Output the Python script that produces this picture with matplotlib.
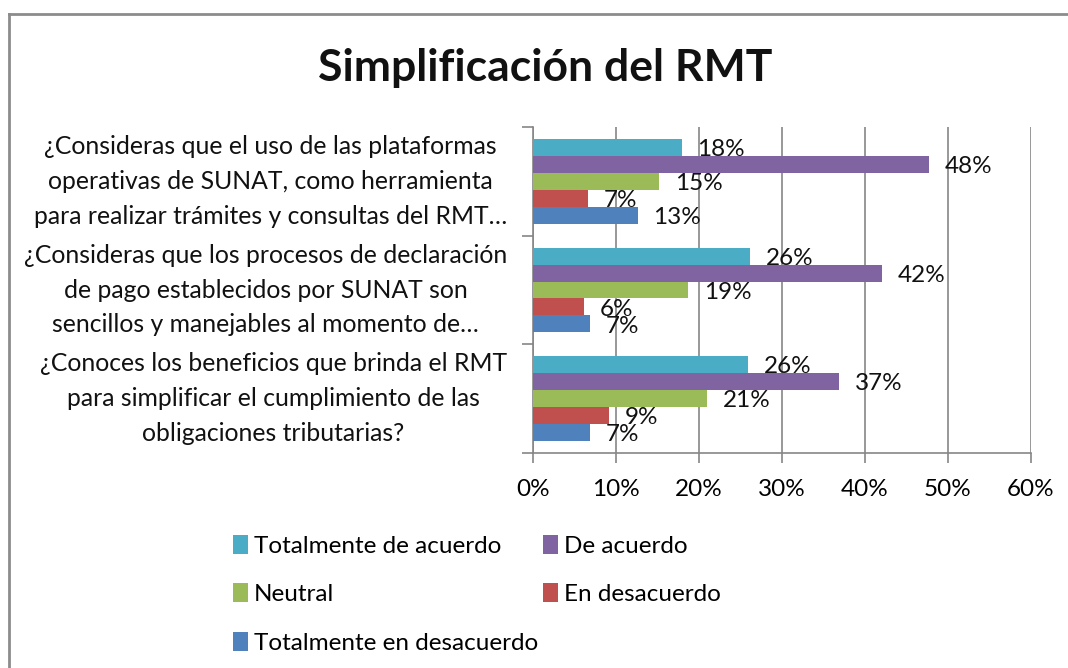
import numpy as np
import matplotlib
matplotlib.use("Agg")
import matplotlib.pyplot as plt
from matplotlib.lines import Line2D
from matplotlib.transforms import blended_transform_factory

plt.rcParams['font.family'] = ['Lato', 'DejaVu Sans']

# Preguntas (de arriba hacia abajo)
questions = [
    "¿Consideras que el uso de las plataformas\noperativas de SUNAT, como herramienta\npara realizar trámites y consultas del RMT…",
    "¿Consideras que los procesos de declaración\nde pago establecidos por SUNAT son\nsencillos y manejables al momento de…",
    "¿Conoces los beneficios que brinda el RMT\npara simplificar el cumplimiento de las\nobligaciones tributarias?",
]

series_names = ["Totalmente de acuerdo", "De acuerdo", "Neutral",
                "En desacuerdo", "Totalmente en desacuerdo"]
colors = ["#4BACC6", "#8064A2", "#9BBB59", "#C0504D", "#4F81BD"]

# porcentajes por serie, en el orden de las preguntas
totalmente_de_acuerdo = [17.9, 26.2, 25.9]
de_acuerdo = [47.7, 42.0, 36.9]
neutral = [15.2, 18.7, 21.0]
en_desacuerdo = [6.6, 6.1, 9.2]
totalmente_en_desacuerdo = [12.6, 6.9, 6.9]

series_vals = [totalmente_de_acuerdo, de_acuerdo, neutral,
               en_desacuerdo, totalmente_en_desacuerdo]

FS = 17.5

fig = plt.figure(figsize=(10.68, 6.68), dpi=100)
ax = fig.add_axes([533 / 1068, 1 - 453 / 668, 498 / 1068, 326 / 668])

y = np.arange(len(questions))
bh = 0.156
bars = []
for i, (name, vals, c) in enumerate(zip(series_names, series_vals, colors)):
    pos = y + (i - 2) * bh
    b = ax.barh(pos, vals, height=bh, color=c, label=name, zorder=3)
    bars.append(b)
    for p, v in zip(pos, vals):
        ax.text(v + 1.9, p + 0.02, f"{v:.0f}%", va='center', ha='left',
                fontsize=FS, color='#111111', zorder=4)

ax.set_xlim(0, 60)
ax.set_ylim(2.5, -0.5)
ax.set_xticks(np.arange(0, 61, 10))
ax.set_xticklabels([f"{t}%" for t in range(0, 61, 10)], fontsize=FS)

# etiquetas de las preguntas (a la izquierda del eje)
trans = blended_transform_factory(ax.transAxes, ax.transData)
ax.set_yticks([])
for yi, q in zip(y, questions):
    ax.text(-26 / 498, yi, q, transform=trans, ha='right', va='center',
            multialignment='center', fontsize=17.8, linespacing=1.62,
            color='#111111')

ax.set_yticks([-0.5, 0.5, 1.5, 2.5], minor=True)
ax.tick_params(axis='y', which='minor', length=8, color='#868686', width=1.2)
ax.tick_params(axis='x', length=7, color='#868686', width=1.2, pad=12)
ax.grid(axis='x', color='#868686', linewidth=1.2, zorder=0)
for s in ['top', 'right']:
    ax.spines[s].set_visible(False)
for s in ['left', 'bottom']:
    ax.spines[s].set_color('#868686')
    ax.spines[s].set_linewidth(1.2)

fig.text(545 / 1068, 1 - 68 / 668, "Simplificación del RMT", ha='center',
         va='center', fontsize=32, fontweight='bold', color='#111111')

order = [0, 2, 4, 1, 3]
fig.legend([bars[k] for k in order], [series_names[k] for k in order],
           ncol=2, loc='upper left', bbox_to_anchor=(233 / 1068, 1 - 535 / 668),
           frameon=False, fontsize=FS, handlelength=0.62, handleheight=0.8,
           handletextpad=0.25, columnspacing=0.2, labelspacing=1.1,
           borderpad=0, borderaxespad=0)

# borde del gráfico (izquierda y arriba)
fig.add_artist(Line2D([9 / 1068, 9 / 1068], [0, 1 - 14 / 668],
                      transform=fig.transFigure, color='#8c8c8c', lw=2))
fig.add_artist(Line2D([9 / 1068, 1], [1 - 14 / 668, 1 - 14 / 668],
                      transform=fig.transFigure, color='#8c8c8c', lw=2))

fig.savefig("out.png", dpi=100)
